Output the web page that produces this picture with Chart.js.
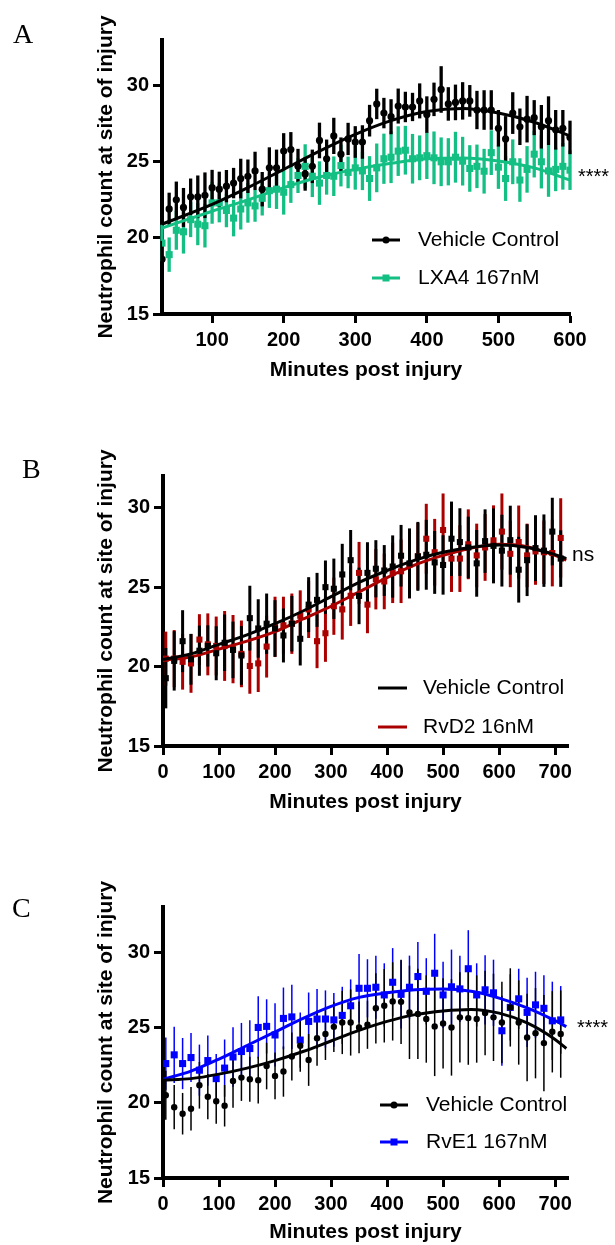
<!DOCTYPE html>
<html>
<head>
<meta charset="utf-8">
<script src="https://cdn.jsdelivr.net/npm/chart.js@4.4.1/dist/chart.umd.min.js"></script>
<style>
  body { margin: 0; background: #fff; }
  canvas.panel { position: absolute; left: 0; }
</style>
</head>
<body>
<canvas id="chartA" class="panel" width="615" height="383" style="top:0px"></canvas>
<canvas id="chartB" class="panel" width="615" height="395" style="top:420px"></canvas>
<canvas id="chartC" class="panel" width="615" height="400" style="top:845px"></canvas>
<script>
// ---- Panel A: Vehicle vs LXA4 (every 10 min) ----
const aTime = [30,40,50,60,70,80,90,100,110,120,130,140,150,160,170,180,190,200,210,220,230,240,250,260,270,280,290,300,310,320,330,340,350,360,370,380,390,400,410,420,430,440,450,460,470,480,490,500,510,520,530,540,550,560,570,580,590,600];
const aVehicle = [18.6,21.9,22.5,22.0,22.7,22.7,22.8,23.3,23.2,23.4,23.6,23.9,24.05,24.4,23.2,24.6,24.6,25.7,25.8,24.7,24.2,24.7,26.4,25.2,26.7,25.5,26.5,26.3,26.3,27.7,28.8,28.2,27.96,28.66,28.6,28.6,29.0,28.1,29.1,29.75,28.8,28.9,29.0,29.0,28.4,28.4,28.4,27.2,26.5,28.2,27.3,27.8,27.9,27.3,27.7,27.1,27.2,26.6];
const aVehicleErr = [1.2,1.07,1.2,1.28,1.2,1.4,1.5,1.17,1.15,1.06,1.0,1.3,1.1,1.26,1.13,1.35,1.2,1.18,1.15,1.15,1.1,1.1,1.17,1.26,1.19,1.1,1.06,1.04,1.1,1.04,1.0,1.0,1.15,1.15,1.0,0.93,1.15,1.2,1.1,1.53,1.1,1.17,1.23,1.04,1.26,1.3,1.3,1.2,1.5,1.37,1.2,1.53,1.15,1.43,1.6,1.3,1.2,1.1];
const aLxa = [19.66,18.9,20.5,20.4,21.2,20.9,20.8,22.3,22.3,21.8,21.3,21.9,22.3,22.1,22.6,23.1,23.2,23.0,23.5,24.1,24.7,24.05,23.6,24.1,24.05,24.75,24.3,24.6,24.4,23.9,24.6,25.2,25.3,25.7,25.76,25.2,25.26,25.4,25.26,25.0,25.0,25.3,25.04,24.56,24.7,24.38,25.6,24.65,23.9,25.0,23.8,24.5,25.5,25.0,24.4,24.5,24.7,24.45];
const aLxaErr = [1.2,1.13,1.28,1.43,1.15,1.38,1.43,1.37,1.28,1.1,1.2,1.35,1.3,1.04,1.13,1.13,1.3,1.47,1.2,1.15,1.45,1.37,1.43,1.26,1.3,1.37,1.04,1.43,1.26,1.47,1.6,1.65,1.7,1.63,1.6,1.63,1.47,1.53,1.73,1.6,1.55,1.67,1.6,1.53,1.43,1.47,1.47,1.43,1.47,1.47,1.43,1.53,1.53,1.75,1.7,1.43,1.53,1.3];
const aFitTime = [30,100,150,200,250,300,350,400,450,500,550,600];
const aVehicleFit = [20.9,22.2,23.3,24.5,25.7,26.8,27.7,28.3,28.5,28.2,27.6,26.7];
const aLxaFit = [20.65,21.75,22.5,23.3,24.0,24.5,24.9,25.2,25.25,25.05,24.6,23.8];
const aXTicks = [100,200,300,400,500,600];

// ---- Panels B and C share the 15 min sampling ----
const bcTime = [5,20,35,50,65,80,95,110,125,140,155,170,185,200,215,230,245,260,275,290,305,320,335,350,365,380,395,410,425,440,455,470,485,500,515,530,545,560,575,590,605,620,635,650,665,680,695,710];
const bcXTicks = [0,100,200,300,400,500,600,700];
const yTicks = [15,20,25,30];

// ---- Panel B: Vehicle vs RvD2 ----
const bVehicle = [19.27,20.36,21.6,20.46,21.0,21.3,20.84,21.5,21.05,20.7,23.05,22.4,22.7,22.4,21.96,22.7,21.75,23.9,24.2,25.0,24.9,25.8,26.7,24.45,25.9,26.16,26.05,26.3,26.98,26.5,26.94,27.04,26.56,26.4,28.05,27.84,27.5,26.5,27.9,27.6,27.3,27.96,26.1,26.7,27.46,27.3,28.5,26.8];
const bVehicleErr = [1.9,1.87,1.95,1.6,1.58,1.3,1.7,1.78,1.78,1.85,2.04,1.84,1.9,1.78,1.7,1.75,1.68,1.73,1.7,1.68,1.9,1.93,1.9,1.78,1.93,1.8,1.6,1.96,1.94,2.2,2.17,2.2,1.98,1.87,2.34,2.13,1.94,2.1,2.0,2.36,2.26,2.17,2.07,2.26,2.07,2.28,2.13,1.78];
const bRvd2 = [20.5,20.5,20.3,20.2,21.7,21.4,21.3,21.3,21.1,20.8,20.04,20.2,21.26,22.5,22.6,22.7,23.2,23.6,21.6,22.1,23.8,23.6,24.46,25.9,23.9,25.5,25.36,25.9,26.0,26.4,26.94,28.05,27.2,28.6,26.8,26.8,27.7,27.0,27.5,27.95,28.5,27.1,27.84,27.0,27.25,27.2,27.15,28.1];
const bRvd2Err = [1.7,1.8,1.75,1.85,1.6,1.95,1.85,2.2,2.15,2.1,1.75,1.8,1.95,1.9,1.8,1.9,1.6,1.8,1.7,1.8,1.8,1.9,1.9,1.95,1.8,1.9,1.75,1.9,2.0,2.1,2.1,2.2,2.1,2.3,2.1,2.1,2.2,2.0,2.1,2.2,2.4,2.1,2.3,2.0,2.1,2.0,2.1,2.5];
const bFitTime = [0,50,100,150,200,250,300,350,400,450,500,550,600,650,700,720];
const bVehicleFit = [20.45,20.8,21.4,22.0,22.7,23.5,24.4,25.3,26.05,26.7,27.2,27.5,27.65,27.5,27.05,26.8];
const bRvd2Fit = [20.4,20.6,21.1,21.6,22.2,23.0,23.8,24.7,25.6,26.4,27.0,27.45,27.7,27.55,27.0,26.7];

// ---- Panel C: Vehicle vs RvE1 ----
const cVehicle = [20.5,19.7,19.27,19.6,21.16,20.4,20.1,19.8,21.44,21.67,21.56,21.5,22.44,21.78,22.07,23.07,23.78,22.84,24.29,24.56,25.04,25.33,25.33,25.0,25.18,26.27,26.44,26.73,26.7,26.0,25.9,25.56,25.07,25.27,25.0,25.67,25.62,25.56,25.96,25.67,25.33,26.33,25.33,24.33,24.62,23.96,24.71,24.56];
const cVehicleErr = [1.63,1.47,1.38,1.44,1.55,1.5,1.5,1.38,1.78,1.55,1.5,1.55,1.55,1.55,1.67,1.6,1.72,1.72,1.83,1.72,1.67,2.1,2.2,1.72,1.6,2.33,2.44,2.6,2.8,3.1,3.0,2.9,3.3,3.0,3.2,3.0,3.1,2.9,2.8,2.9,2.7,2.6,2.8,2.9,3.0,3.2,2.7,2.9];
const cRve1 = [22.6,23.18,22.6,23.0,22.16,22.8,21.6,22.3,23.04,23.4,23.6,25.0,25.07,24.5,25.6,25.7,24.16,25.4,25.56,25.56,25.5,25.8,26.44,27.6,27.6,27.67,27.16,28.0,27.2,27.67,28.38,27.4,28.6,27.16,27.7,27.56,28.9,27.16,27.5,27.3,24.78,26.33,26.9,26.0,26.5,26.27,25.44,25.5];
const cRve1Err = [1.74,1.87,1.7,1.63,1.7,1.67,1.63,1.9,1.98,1.9,1.87,2.07,1.8,2.1,2.05,2.13,1.83,1.92,2.0,1.9,1.78,1.9,1.75,2.27,1.93,2.1,2.1,2.27,2.27,2.1,2.3,2.2,2.62,2.2,2.47,2.2,2.56,2.1,2.3,2.2,2.33,2.2,2.0,2.3,2.2,2.2,2.6,2.25];
const cFitTime = [0,50,100,150,200,250,300,350,400,450,500,550,600,650,700,720];
const cVehicleFit = [21.5,21.6,21.9,22.3,22.8,23.4,24.1,24.8,25.4,25.85,26.1,26.2,25.95,25.3,24.2,23.6];
const cRve1Fit = [21.55,22.1,22.9,23.8,24.7,25.6,26.4,27.0,27.3,27.5,27.55,27.4,26.95,26.3,25.45,25.05];

const SANS = "'Liberation Sans', Arial, sans-serif";
Chart.defaults.font.family = SANS;
Chart.defaults.color = '#000';

function pts(times, vals) {
    return times.map((t, i) => ({ x: t, y: vals[i] }));
}

// vertical SEM bars, drawn before the symbols and lines
const errorBars = {
    id: 'errorBars',
    beforeDatasetsDraw(chart) {
        const { ctx, scales: { x, y } } = chart;
        chart.data.datasets.forEach(ds => {
            if (!ds.errors) return;
            ctx.save();
            ctx.strokeStyle = ds.errColor;
            ctx.lineWidth = ds.errWidth;
            ds.data.forEach((p, j) => {
                const px = x.getPixelForValue(p.x);
                ctx.beginPath();
                ctx.moveTo(px, y.getPixelForValue(p.y - ds.errors[j]));
                ctx.lineTo(px, y.getPixelForValue(p.y + ds.errors[j]));
                ctx.stroke();
            });
            ctx.restore();
        });
    }
};

// panel letter, in-plot legend and significance mark
const decor = {
    id: 'decor',
    afterDraw(chart, args, o) {
        const ctx = chart.ctx;
        ctx.save();
        ctx.fillStyle = '#000';
        ctx.textAlign = 'left';
        ctx.textBaseline = 'alphabetic';
        ctx.font = "28px 'Liberation Serif', 'Times New Roman', serif";
        ctx.fillText(o.letter, o.letterX, o.letterY);

        ctx.font = '21px ' + SANS;
        ctx.textBaseline = 'middle';
        o.legend.forEach(item => {
            ctx.strokeStyle = item.color;
            ctx.fillStyle = item.color;
            ctx.lineWidth = 3;
            ctx.beginPath();
            ctx.moveTo(o.lineX1, item.y);
            ctx.lineTo(o.lineX2, item.y);
            ctx.stroke();
            const mx = (o.lineX1 + o.lineX2) / 2;
            if (item.marker === 'circle') {
                ctx.beginPath();
                ctx.arc(mx, item.y, 3.5, 0, Math.PI * 2);
                ctx.fill();
            } else if (item.marker === 'rect') {
                ctx.fillRect(mx - 3.5, item.y - 3.5, 7, 7);
            }
            ctx.fillStyle = '#000';
            ctx.fillText(item.label, o.textX, item.y);
        });

        ctx.textBaseline = 'alphabetic';
        ctx.font = (o.sigSize || 21) + 'px ' + SANS;
        ctx.fillText(o.sig, o.sigX, o.sigY);
        ctx.restore();
    }
};

function buildPanel(id, p) {
    return new Chart(document.getElementById(id), {
        type: 'scatter',
        data: {
            datasets: [
                {
                    type: 'line', data: pts(p.fitTime, p.treatFit), borderColor: p.treatColor,
                    borderWidth: 3, pointRadius: 0, cubicInterpolationMode: 'monotone', fill: false, order: 4
                },
                {
                    data: pts(p.time, p.treat), errors: p.treatErr, errColor: p.treatColor, errWidth: p.errWidth,
                    pointStyle: 'rect', pointRadius: p.treatRadius, backgroundColor: p.treatColor,
                    borderColor: p.treatColor, borderWidth: 0, order: 3
                },
                {
                    type: 'line', data: pts(p.fitTime, p.vehFit), borderColor: '#000',
                    borderWidth: 3, pointRadius: 0, cubicInterpolationMode: 'monotone', fill: false, order: 2
                },
                {
                    data: pts(p.time, p.veh), errors: p.vehErr, errColor: '#000', errWidth: p.errWidth,
                    pointStyle: p.vehStyle, pointRadius: p.vehRadius, backgroundColor: '#000',
                    borderColor: '#000', borderWidth: 0, order: 1
                }
            ]
        },
        options: {
            responsive: false,
            animation: false,
            events: [],
            layout: { autoPadding: false, padding: { left: 0, top: p.padTop, right: p.padRight, bottom: 0 } },
            plugins: {
                legend: { display: false },
                tooltip: { enabled: false },
                decor: p.decor
            },
            scales: {
                x: {
                    type: 'linear', min: p.xMin, max: p.xMax,
                    afterBuildTicks: axis => { axis.ticks = p.xTicks.map(v => ({ value: v })); },
                    afterFit: axis => { axis.height = p.xHeight; },
                    grid: { drawOnChartArea: false, drawTicks: true, tickLength: 9, tickWidth: 3, tickColor: '#000' },
                    border: { display: true, color: '#000', width: 4 },
                    ticks: { autoSkip: false, maxRotation: 0, padding: 5, color: '#000', font: { size: 20, weight: 'bold' } },
                    title: { display: true, text: 'Minutes post injury', color: '#000', padding: 0, font: { size: 21, weight: 'bold' } }
                },
                y: {
                    type: 'linear', min: 15, max: p.yMax,
                    afterBuildTicks: axis => { axis.ticks = yTicks.map(v => ({ value: v })); },
                    afterFit: axis => { axis.width = p.yWidth; },
                    grid: { drawOnChartArea: false, drawTicks: true, tickLength: 9, tickWidth: 3, tickColor: '#000' },
                    border: { display: true, color: '#000', width: 4 },
                    ticks: { padding: 4, color: '#000', font: { size: 20, weight: 'bold' } },
                    title: {
                        display: true, text: 'Neutrophil count at site of injury', color: '#000',
                        padding: { top: 94, bottom: 0 }, font: { size: 21, weight: 'bold' }
                    }
                }
            }
        },
        plugins: [errorBars, decor]
    });
}

buildPanel('chartA', {
    time: aTime, veh: aVehicle, vehErr: aVehicleErr, treat: aLxa, treatErr: aLxaErr,
    fitTime: aFitTime, vehFit: aVehicleFit, treatFit: aLxaFit,
    treatColor: '#14bf84', vehStyle: 'circle', vehRadius: 3.6, treatRadius: 5, errWidth: 3.3,
    xMin: 30, xMax: 600, xTicks: aXTicks, yMax: 33,
    padTop: 40, padRight: 45, xHeight: 69, yWidth: 162,
    decor: {
        letter: 'A', letterX: 13, letterY: 43,
        lineX1: 372, lineX2: 400, textX: 418,
        legend: [
            { label: 'Vehicle Control', color: '#000', y: 240, marker: 'circle' },
            { label: 'LXA4 167nM', color: '#14bf84', y: 278, marker: 'rect' }
        ],
        sig: '****', sigX: 578, sigY: 183, sigSize: 20
    }
});

buildPanel('chartB', {
    time: bcTime, veh: bVehicle, vehErr: bVehicleErr, treat: bRvd2, treatErr: bRvd2Err,
    fitTime: bFitTime, vehFit: bVehicleFit, treatFit: bRvd2Fit,
    treatColor: '#aa0000', vehStyle: 'rect', vehRadius: 4.3, treatRadius: 4.3, errWidth: 3,
    xMin: 0, xMax: 723, xTicks: bcXTicks, yMax: 32,
    padTop: 56, padRight: 47, xHeight: 69, yWidth: 163,
    decor: {
        letter: 'B', letterX: 22, letterY: 58,
        lineX1: 378, lineX2: 407, textX: 423,
        legend: [
            { label: 'Vehicle Control', color: '#000', y: 268 },
            { label: 'RvD2 16nM', color: '#aa0000', y: 307 }
        ],
        sig: 'ns', sigX: 572, sigY: 141, sigSize: 21
    }
});

buildPanel('chartC', {
    time: bcTime, veh: cVehicle, vehErr: cVehicleErr, treat: cRve1, treatErr: cRve1Err,
    fitTime: cFitTime, vehFit: cVehicleFit, treatFit: cRve1Fit,
    treatColor: '#0000ff', vehStyle: 'circle', vehRadius: 3.2, treatRadius: 5, errWidth: 1.5,
    xMin: 0, xMax: 723, xTicks: bcXTicks, yMax: 33,
    padTop: 62, padRight: 47, xHeight: 67, yWidth: 163,
    decor: {
        letter: 'C', letterX: 12, letterY: 72,
        lineX1: 380, lineX2: 408, textX: 426,
        legend: [
            { label: 'Vehicle Control', color: '#000', y: 260, marker: 'circle' },
            { label: 'RvE1 167nM', color: '#0000ff', y: 297, marker: 'rect' }
        ],
        sig: '****', sigX: 577, sigY: 189, sigSize: 20
    }
});
</script>
</body>
</html>
